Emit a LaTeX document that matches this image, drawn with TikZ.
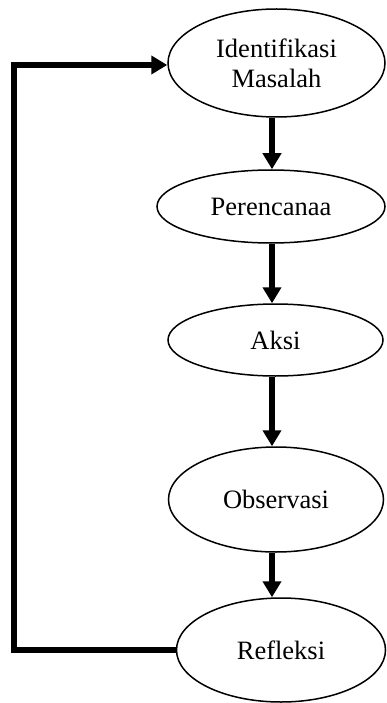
\documentclass[tikz,border=0pt]{standalone}
\usepackage{fontspec}
\setmainfont{Liberation Serif}
\usetikzlibrary{shapes.geometric,arrows.meta}
\begin{document}
\begin{tikzpicture}[x=1pt,y=-1pt,
  oval/.style={draw,ellipse,line width=1.5pt,inner sep=0pt,align=center,
    font=\fontsize{26.5}{30}\selectfont},
  flow/.style={line width=5.5pt,-{Triangle[length=16pt,width=18pt]}},
  fb/.style={line width=5.5pt,line join=miter,-{Triangle[length=16pt,width=18pt]}}]
\useasboundingbox (0,0) rectangle (386,703);
\node[oval,minimum width=217pt,minimum height=108pt] (E1) at (276.5,63) {Identifikasi\\Masalah};
\node[oval,minimum width=228pt,minimum height=73pt] (E2) at (271,206.5) {Perencanaa};
\node[oval,minimum width=215pt,minimum height=72pt] (E3) at (275.5,340) {Aksi};
\node[oval,minimum width=215pt,minimum height=105pt] (E4) at (276,499.5) {Observasi};
\node[oval,minimum width=209pt,minimum height=104pt] (E5) at (281,650) {Refleksi};
\coordinate (col) at (272,0);
\coordinate (c2) at (14,65);
\draw[flow] (E1.south -| col) -- (E2.north -| col);
\draw[flow] (E2.south -| col) -- (E3.north -| col);
\draw[flow] (E3.south -| col) -- (E4.north -| col);
\draw[flow] (E4.south -| col) -- (E5.north -| col);
\draw[fb] (E5.west) -| (c2) -- (E1.west |- c2);
\end{tikzpicture}
\end{document}
